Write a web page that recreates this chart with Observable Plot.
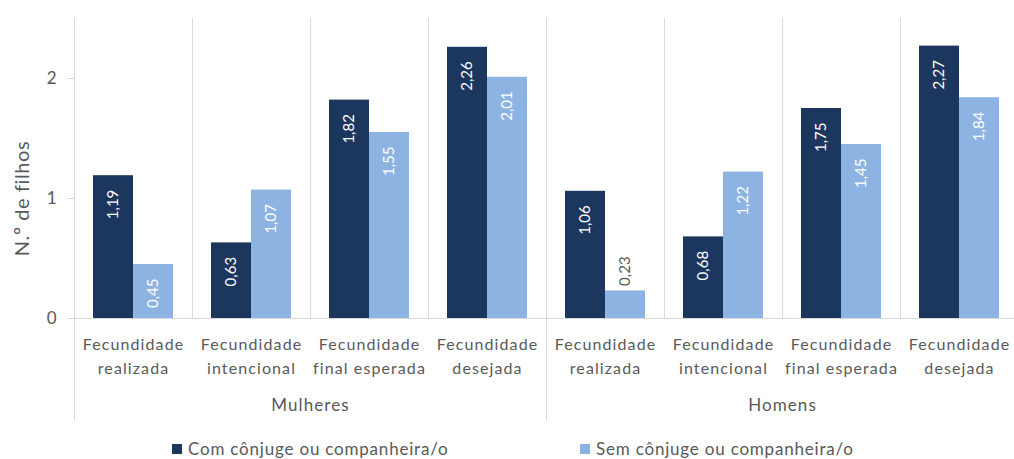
<!DOCTYPE html>
<html>
<head>
<meta charset="utf-8">
<script src="https://cdn.jsdelivr.net/npm/d3@7"></script>
<script src="https://cdn.jsdelivr.net/npm/@observablehq/plot@0.6"></script>
<style>
  html, body { margin: 0; padding: 0; background: #fff; }
  #chart { width: 1014px; font-family: Lato, "Open Sans", sans-serif; color: #595959; }
  .legend { position: relative; height: 27px; font-size: 17px; letter-spacing: 0.8px; }
  .legend .item { position: absolute; top: 6px; display: flex; align-items: center; white-space: nowrap; }
  .legend .sw { width: 10px; height: 10px; margin-right: 6px; }
  .spaced, .spaced text { letter-spacing: 1.1px; }
  .spaced-y, .spaced-y text { letter-spacing: 0.6px; }
</style>
</head>
<body>
<div id="chart"></div>
<script>
const groups = ["Mulheres", "Homens"];
const measures = ["Fecundidade\nrealizada", "Fecundidade\nintencional", "Fecundidade\nfinal esperada", "Fecundidade\ndesejada"];
const series = ["Com cônjuge ou companheira/o", "Sem cônjuge ou companheira/o"];
const colors = ["#1b375e", "#8db3e2"];
const comValues = [1.19, 0.63, 1.82, 2.26, 1.06, 0.68, 1.75, 2.27];
const semValues = [0.45, 1.07, 1.55, 2.01, 0.23, 1.22, 1.45, 1.84];
const yTicks = [0, 1, 2];
const yLabel = "N.º de filhos";

const keyOf = (g, m) => g + "|" + m;
const cats = groups.flatMap(g => measures.map(m => ({group: g, measure: m, key: keyOf(g, m)})));
const keys = cats.map(c => c.key);
const rows = [];
cats.forEach((c, i) => {
  rows.push({...c, series: series[0], value: comValues[i]});
  rows.push({...c, series: series[1], value: semValues[i]});
});
const fmt = v => d3.format(".2f")(v).replace(".", ",");
const fits = d => d.value >= 0.35;

const grid = "#d9d9d9";
const ink = "#595959";

const chart = Plot.plot({
  width: 1014,
  height: 432,
  marginLeft: 73,
  marginRight: -4,
  marginTop: 18,
  marginBottom: 114,
  style: {fontFamily: "Lato, 'Open Sans', sans-serif", fontSize: "16px", color: ink, background: "white", overflow: "visible"},
  fx: {domain: keys, padding: 0, axis: null},
  x: {domain: series, paddingInner: 0, paddingOuter: 0.47, axis: null},
  y: {domain: [0, 2.5], axis: null},
  color: {domain: series, range: colors},
  marks: [
    Plot.frame({anchor: "left", stroke: grid}),
    ...groups.map(g => Plot.frame({anchor: "left", stroke: grid, fx: keyOf(g, measures[0]), insetBottom: -102})),
    Plot.ruleY([0], {stroke: grid}),
    Plot.axisY({ticks: yTicks, tickFormat: d => String(d), tickSize: 7, tickPadding: 11, stroke: grid, fill: ink, fontSize: 17, label: null}),
    Plot.text([yLabel], {fx: [keys[0]], text: d => d, frameAnchor: "left", textAnchor: "middle", rotate: -90, dx: -52, dy: 30, fontSize: 20, fill: ink, className: "spaced-y"}),
    Plot.barY(rows, {fx: "key", x: "series", y: "value", fill: "series"}),
    Plot.text(rows.filter(fits), {fx: "key", x: "series", y: "value", text: d => fmt(d.value), rotate: -90, textAnchor: "end", lineAnchor: "middle", dy: 14, fill: "white", fontSize: 15}),
    Plot.text(rows.filter(d => !fits(d)), {fx: "key", x: "series", y: "value", text: d => fmt(d.value), rotate: -90, textAnchor: "start", lineAnchor: "middle", dy: -5, fill: ink, fontSize: 15}),
    Plot.text(cats, {fx: "key", text: "measure", frameAnchor: "bottom", textAnchor: "middle", lineAnchor: "top", dy: 14, lineHeight: 1.5, fontSize: 16, fill: ink, className: "spaced"}),
    Plot.text(groups, {fx: g => keyOf(g, measures[1]), text: d => d, frameAnchor: "bottom-right", textAnchor: "middle", dy: 92, fontSize: 17, fill: ink, className: "spaced"})
  ]
});

const root = document.getElementById("chart");
root.appendChild(chart);
const legend = document.createElement("div");
legend.className = "legend";
const lefts = [172, 580];
series.forEach((s, i) => {
  const it = document.createElement("div");
  it.className = "item";
  it.style.left = lefts[i] + "px";
  const sw = document.createElement("span");
  sw.className = "sw";
  sw.style.background = colors[i];
  const tx = document.createElement("span");
  tx.textContent = s;
  it.appendChild(sw);
  it.appendChild(tx);
  legend.appendChild(it);
});
root.appendChild(legend);
</script>
</body>
</html>
